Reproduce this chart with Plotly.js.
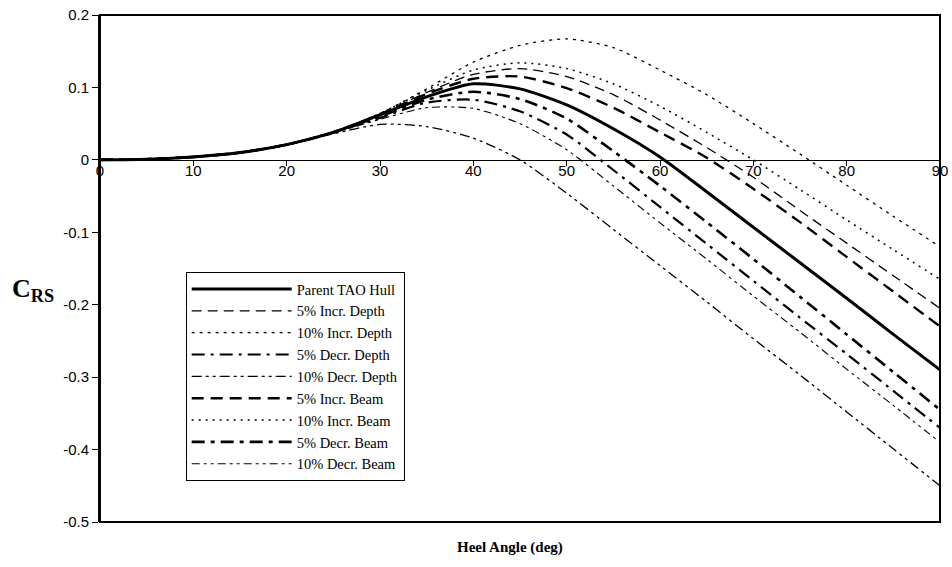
<!DOCTYPE html>
<html>
<head>
<meta charset="utf-8">
<script src="https://cdn.plot.ly/plotly-3.0.1.min.js"></script>
<style>html,body{margin:0;padding:0;background:#fff}#chart{width:952px;height:567px}</style>
</head>
<body>
<div id="chart"></div>
<script>
const angles = [0,5,10,15,20,25,30,35,40,45,50,55,60,65,70,75,80,85,90];

const parentHull   = [0,0.001,0.004,0.010,0.021,0.038,0.062,0.087,0.105,0.098,0.076,0.043,0.004,-0.044,-0.093,-0.142,-0.191,-0.241,-0.290];
const incrDepth10  = [0,0.001,0.004,0.010,0.021,0.038,0.064,0.098,0.135,0.158,0.167,0.155,0.124,0.090,0.050,0.008,-0.035,-0.078,-0.120];
const incrBeam10   = [0,0.001,0.004,0.010,0.021,0.038,0.064,0.096,0.124,0.134,0.126,0.105,0.074,0.038,0.000,-0.041,-0.083,-0.124,-0.165];
const incrDepth5   = [0,0.001,0.004,0.010,0.021,0.038,0.063,0.093,0.118,0.126,0.115,0.090,0.055,0.017,-0.024,-0.070,-0.115,-0.160,-0.205];
const incrBeam5    = [0,0.001,0.004,0.010,0.021,0.038,0.063,0.091,0.112,0.115,0.099,0.072,0.038,0.003,-0.040,-0.086,-0.134,-0.182,-0.230];
const decrBeam5    = [0,0.001,0.004,0.010,0.021,0.038,0.060,0.083,0.094,0.084,0.057,0.012,-0.036,-0.086,-0.137,-0.189,-0.241,-0.293,-0.345];
const decrDepth5   = [0,0.001,0.004,0.010,0.021,0.038,0.058,0.079,0.083,0.067,0.035,-0.014,-0.065,-0.116,-0.167,-0.218,-0.268,-0.319,-0.370];
const decrBeam10   = [0,0.001,0.004,0.010,0.021,0.037,0.056,0.072,0.071,0.050,0.014,-0.036,-0.087,-0.137,-0.188,-0.238,-0.289,-0.339,-0.390];
const decrDepth10  = [0,0.001,0.004,0.010,0.021,0.036,0.049,0.046,0.030,0.000,-0.046,-0.096,-0.146,-0.196,-0.247,-0.297,-0.348,-0.399,-0.450];

const seriesNames = ["Parent TAO Hull","5% Incr. Depth","10% Incr. Depth","5% Decr. Depth","10% Decr. Depth","5% Incr. Beam","10% Incr. Beam","5% Decr. Beam","10% Decr. Beam"];
const seriesValues = [parentHull, incrDepth5, incrDepth10, decrDepth5, decrDepth10, incrBeam5, incrBeam10, decrBeam5, decrBeam10];

const yTickVals = [-0.5,-0.4,-0.3,-0.2,-0.1,0,0.1,0.2];
const yTickText = ["-0.5","-0.4","-0.3","-0.2","-0.1","0","0.1","0.2"];
const xTickVals = [0,10,20,30,40,50,60,70,80,90];
const xTickText = ["0","10","20","30","40","50","60","70","80","90"];

const styles = [
  {width:3,   dash:"solid"},
  {width:1.3, dash:"10px,6px"},
  {width:1.3, dash:"3px,5px"},
  {width:2.2, dash:"13px,6px,3px,6px"},
  {width:1.3, dash:"10px,4px,3px,4px,3px,4px"},
  {width:2.4, dash:"12px,7px"},
  {width:1.5, dash:"2px,5px"},
  {width:2.6, dash:"13px,6px,4px,6px"},
  {width:1.1, dash:"8px,4px,3px,4px,3px,4px"}
];

const traces = seriesNames.map((n,i)=>({
  x: angles, y: seriesValues[i], name: n, type:'scatter', mode:'lines',
  line:{color:'#000', width:styles[i].width, dash:styles[i].dash, shape:'spline', smoothing:0.7}
}));

const serif = '"Times New Roman", "Liberation Serif", serif';
const sans = 'Arial, "Liberation Sans", sans-serif';

const layout = {
  width:952, height:567,
  margin:{l:100, r:12, t:15, b:45},
  paper_bgcolor:'#fff', plot_bgcolor:'#fff',
  showlegend:true,
  legend:{x:0.102, y:0.493, xanchor:'left', yanchor:'top', bgcolor:'#fff', bordercolor:'#000', borderwidth:1,
    font:{family:serif, size:14.5, color:'#000'},
    itemwidth:100, tracegroupgap:0},
  xaxis:{range:[0,90], anchor:'free', position:0.5/0.7, showgrid:false, zeroline:false,
    showline:true, linecolor:'#000', linewidth:1,
    tickmode:'array', tickvals:xTickVals, ticktext:xTickText, ticks:'outside', ticklen:5, tickcolor:'#000',
    ticklabelstandoff:-8,
    tickfont:{family:sans, size:15, color:'#000'}},
  yaxis:{range:[-0.5,0.2], showgrid:false, zeroline:false, showline:true, linecolor:'#000', linewidth:2,
    tickmode:'array', tickvals:yTickVals, ticktext:yTickText, ticks:'outside', ticklen:6, tickcolor:'#000',
    tickfont:{family:sans, size:15, color:'#000'}},
  shapes:[{type:'rect', xref:'paper', yref:'paper', x0:0, x1:1, y0:0, y1:1, line:{color:'#000', width:2}}],
  annotations:[
    {text:'<b>Heel Angle (deg)</b>', xref:'paper', yref:'paper', x:0.488, y:-0.051, xanchor:'center', yanchor:'middle', showarrow:false,
      font:{family:serif, size:15, color:'#000'}},
    {text:'<b>C<sub>RS</sub></b>', xref:'paper', yref:'paper', x:-0.08, y:0.458, xanchor:'center', yanchor:'middle', showarrow:false, textangle:0,
      font:{family:serif, size:26, color:'#000'}}
  ]
};

Plotly.newPlot('chart', traces, layout, {displayModeBar:false, staticPlot:true});
</script>
</body>
</html>
